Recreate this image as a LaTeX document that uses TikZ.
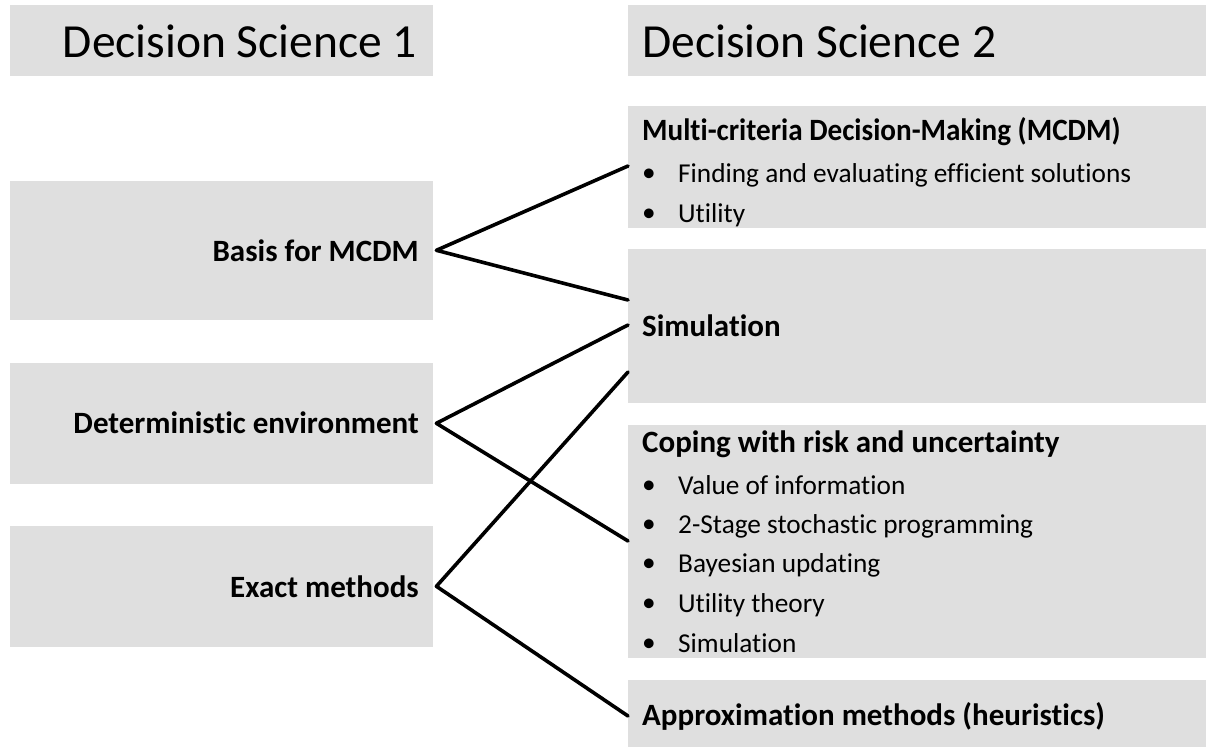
\documentclass[tikz,border=0pt]{standalone}
\usepackage{fontspec}
\setmainfont[Ligatures={NoCommon}]{Carlito}
\begin{document}
\begin{tikzpicture}[x=1pt,y=-1pt,
  hdr/.style={font=\fontsize{47.5}{52}\selectfont,inner sep=0pt},
  lbl/.style={font=\bfseries\fontsize{31}{36}\selectfont,inner sep=0pt},
  itm/.style={font=\fontsize{27.3}{32}\selectfont,inner sep=0pt},
  link/.style={line width=3.6pt,line cap=round,line join=round}]
\definecolor{panelgray}{RGB}{223,223,223}
\useasboundingbox (0,0) rectangle (1206,747);

% left column panels
\fill[panelgray] (10,5) rectangle (433,76);
\node[anchor=south west,inner sep=0pt,minimum width=423pt,minimum height=139pt] (basis) at (10,320) {};
\node[anchor=south west,inner sep=0pt,minimum width=423pt,minimum height=121pt] (determ) at (10,484) {};
\node[anchor=south west,inner sep=0pt,minimum width=423pt,minimum height=121pt] (exact) at (10,647) {};
\fill[panelgray] (basis.south west) rectangle (basis.north east);
\fill[panelgray] (determ.south west) rectangle (determ.north east);
\fill[panelgray] (exact.south west) rectangle (exact.north east);

% right column panels
\fill[panelgray] (628,5) rectangle (1206,76);
\node[anchor=south west,inner sep=0pt,minimum width=578pt,minimum height=122pt] (mcdm) at (628,228) {};
\node[anchor=south west,inner sep=0pt,minimum width=578pt,minimum height=154pt] (simul) at (628,403) {};
\node[anchor=south west,inner sep=0pt,minimum width=578pt,minimum height=233pt] (coping) at (628,658) {};
\node[anchor=south west,inner sep=0pt,minimum width=578pt,minimum height=67pt] (approx) at (628,747) {};
\fill[panelgray] (mcdm.south west) rectangle (mcdm.north east);
\fill[panelgray] (simul.south west) rectangle (simul.north east);
\fill[panelgray] (coping.south west) rectangle (coping.north east);
\fill[panelgray] (approx.south west) rectangle (approx.north east);

% headings
\node[hdr,anchor=base east] (ds1) at (417,57) {Decision Science 1};
\node[hdr,anchor=base west] (ds2) at (642,57) {Decision Science 2};

% left labels
\node[lbl,anchor=base east] (tbasis) at (419,261) {Basis for MCDM};
\node[lbl,anchor=base east] (tdeterm) at (419,433) {Deterministic environment};
\node[lbl,anchor=base east] (texact) at (419,597) {Exact methods};

% right labels and bullet lists
\node[lbl,anchor=base west] (tmcdm) at (642,140) {\scalebox{0.94}[1]{Multi-criteria Decision-Making (MCDM)}};
\node[itm,anchor=base west] (b1) at (642,182) {\makebox[36pt][l]{\raisebox{1pt}{\textbullet}}Finding and evaluating efficient solutions};
\node[itm,anchor=base west] (b2) at (642,222) {\makebox[36pt][l]{\raisebox{1pt}{\textbullet}}Utility};

\node[lbl,anchor=base west] (tsimul) at (642,336) {Simulation};

\node[lbl,anchor=base west] (tcoping) at (642,452) {Coping with risk and uncertainty};
\node[itm,anchor=base west] (c1) at (642,494) {\makebox[36pt][l]{\raisebox{1pt}{\textbullet}}Value of information};
\node[itm,anchor=base west] (c2) at (642,533) {\makebox[36pt][l]{\raisebox{1pt}{\textbullet}}2-Stage stochastic programming};
\node[itm,anchor=base west] (c3) at (642,572) {\makebox[36pt][l]{\raisebox{1pt}{\textbullet}}Bayesian updating};
\node[itm,anchor=base west] (c4) at (642,612) {\makebox[36pt][l]{\raisebox{1pt}{\textbullet}}Utility theory};
\node[itm,anchor=base west] (c5) at (642,652) {\makebox[36pt][l]{\raisebox{1pt}{\textbullet}}Simulation};

\node[lbl,anchor=base west] (tapprox) at (642,725) {Approximation methods (heuristics)};

% connector end points on the right panels
\coordinate (pm) at (628,166);
\coordinate (ps1) at (628,300);
\coordinate (ps2) at (628,325);
\coordinate (ps3) at (628,372);
\coordinate (pc) at (628,541);
\coordinate (pa) at (628,716);

% connectors
\draw[link] (pm) -- ([xshift=3pt]basis.east) -- (ps1);
\draw[link] (ps2) -- ([xshift=3pt]determ.east) -- (pc);
\draw[link] (ps3) -- ([xshift=3pt]exact.east) -- (pa);
\end{tikzpicture}
\end{document}
